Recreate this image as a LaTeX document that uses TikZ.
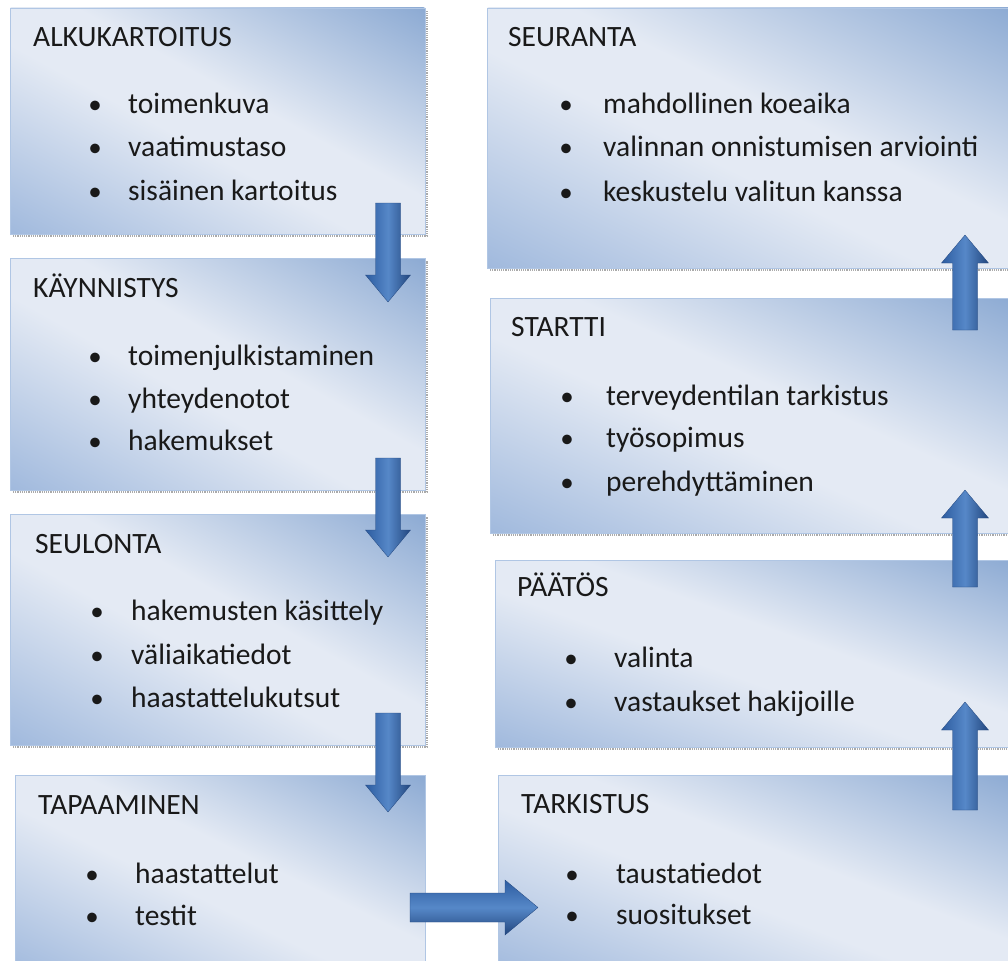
\documentclass[tikz,border=0pt]{standalone}
\usepackage{fontspec}
\setmainfont{Carlito}
\usetikzlibrary{calc}
\definecolor{bxdarkA}{RGB}{140,170,211}
\definecolor{bxdarkB}{RGB}{160,185,221}
\definecolor{bxlight}{RGB}{228,234,244}
\definecolor{bxborder}{RGB}{176,198,228}
\definecolor{shadowc}{RGB}{170,170,170}
\definecolor{arrdark}{RGB}{45,92,160}
\definecolor{arrdarkB}{RGB}{34,70,126}
\definecolor{arrlight}{RGB}{86,136,200}
\definecolor{txt}{RGB}{25,25,25}
\pgfdeclareverticalshading{boxshade}{100bp}{color(0bp)=(bxdarkB); color(25bp)=(bxdarkB); color(46bp)=(bxlight); color(54bp)=(bxlight); color(75bp)=(bxdarkA); color(100bp)=(bxdarkA)}
\tikzset{
  box/.style={draw=bxborder, line width=0.8pt, anchor=north west, inner sep=0pt, outer sep=0pt},
  shadowline/.style={draw=shadowc, line width=1.2pt, densely dotted},
  title/.style={anchor=base west, inner sep=0pt, font=\fontsize{29.5}{32}\selectfont, text=txt},
  item/.style={anchor=base west, inner sep=0pt, font=\fontsize{29.5}{32}\selectfont, text=txt},
  bul/.style={anchor=base, inner sep=0pt, font=\fontsize{27}{30}\selectfont, text=txt},
  arrV/.style={left color=arrdark, right color=arrdarkB, middle color=arrlight, draw=arrdarkB, line width=0.3pt},
  arrH/.style={top color=arrdark, bottom color=arrdarkB, middle color=arrlight, draw=arrdarkB, line width=0.3pt}
}
% box with diagonal shading: name, x, y, width, height
\newcommand\diagbox[5]{%
  \begin{scope}
    \clip (#2,#3) rectangle ++(#4,#5);
    \pgfmathsetmacro\sa{#4/100}\pgfmathsetmacro\sb{#5/100}
    \shade[shading=boxshade, transform canvas={cm={\sa,-\sb,\sa,\sb,(#2+#4/2,#3+#5/2)}}] (-50,-50) rectangle (50,50);
  \end{scope}
  \node[box, minimum width=#4pt, minimum height=#5pt] (#1) at (#2,#3) {};
}
\newcommand\boxshadow[1]{\draw[shadowline] ($(#1.south west)+(3,2)$) -- ($(#1.south east)+(2,2)$) -- ($(#1.north east)+(2,3)$);}
\newcommand\blockdown[1]{\shade[arrV] (#1) -- ++(-12.5,0) -- ++(0,72) -- ++(-10,0) -- ++(22.5,27) -- ++(22.5,-27) -- ++(-10,0) -- ++(0,-72) -- cycle;}
\newcommand\blockup[2]{\shade[arrV] (#1) -- ++(-12.5,0) -- ++(0,-#2) -- ++(-11,0) -- ++(23.5,-28) -- ++(23.5,28) -- ++(-11,0) -- ++(0,#2) -- cycle;}
\newcommand\blockright[1]{\shade[arrH] (#1) -- ++(0,-14.5) -- ++(95,0) -- ++(0,-13) -- ++(33,27.5) -- ++(-33,27.5) -- ++(0,-13) -- ++(-95,0) -- cycle;}
\begin{document}
\begin{tikzpicture}[x=1pt,y=-1pt]
\useasboundingbox (0,0) rectangle (1008,960);
\clip (0,0) rectangle (1008,960);
\fill[white] (0,0) rectangle (1008,960);

% left column boxes
\diagbox{b1}{10}{8}{415}{226}
\diagbox{b2}{10}{258}{415}{232}
\diagbox{b3}{10}{514}{415}{231}
\diagbox{b4}{15}{775}{410}{200}
% right column boxes
\diagbox{r1}{487}{8}{530}{260}
\diagbox{r2}{490}{298}{527}{235}
\diagbox{r3}{495}{560}{522}{187}
\diagbox{r4}{498}{775}{519}{200}
\boxshadow{b1}\boxshadow{b2}\boxshadow{b3}\boxshadow{r1}\boxshadow{r2}\boxshadow{r3}

% texts box 1
\node[title] (t1) at (33,47) {ALKUKARTOITUS};
\node[bul] (p11) at (95,114) {•}; \node[item] (i11) at (128,114) {toimenkuva};
\node[bul] (p12) at (95,157) {•}; \node[item] (i12) at (128,157) {vaatimustaso};
\node[bul] (p13) at (95,200) {•}; \node[item] (i13) at (128,200) {sisäinen kartoitus};
% box 2
\node[title] (t2) at (33,297) {KÄYNNISTYS};
\node[bul] (p21) at (95,365) {•}; \node[item] (i21) at (128,365) {toimenjulkistaminen};
\node[bul] (p22) at (95,408) {•}; \node[item] (i22) at (128,408) {yhteydenotot};
\node[bul] (p23) at (95,450) {•}; \node[item] (i23) at (128,450) {hakemukset};
% box 3
\node[title] (t3) at (35,553) {SEULONTA};
\node[bul] (p31) at (97,620) {•}; \node[item] (i31) at (131,620) {hakemusten käsittely};
\node[bul] (p32) at (97,664) {•}; \node[item] (i32) at (131,664) {väliaikatiedot};
\node[bul] (p33) at (97,707) {•}; \node[item] (i33) at (131,707) {haastattelukutsut};
% box 4
\node[title] (t4) at (38,814) {TAPAAMINEN};
\node[bul] (p41) at (92,883) {•}; \node[item] (i41) at (135,883) {haastattelut};
\node[bul] (p42) at (92,925) {•}; \node[item] (i42) at (135,925) {testit};
% right 1
\node[title] (u1) at (508,47) {SEURANTA};
\node[bul] (q11) at (566,114) {•}; \node[item] (j11) at (603,114) {mahdollinen koeaika};
\node[bul] (q12) at (566,157) {•}; \node[item] (j12) at (603,157) {valinnan onnistumisen arviointi};
\node[bul] (q13) at (566,201) {•}; \node[item] (j13) at (603,201) {keskustelu valitun kanssa};
% right 2
\node[title] (u2) at (511,336) {STARTTI};
\node[bul] (q21) at (567,405) {•}; \node[item] (j21) at (606,405) {terveydentilan tarkistus};
\node[bul] (q22) at (567,447) {•}; \node[item] (j22) at (606,447) {työsopimus};
\node[bul] (q23) at (567,491) {•}; \node[item] (j23) at (606,491) {perehdyttäminen};
% right 3
\node[title] (u3) at (517,596) {PÄÄTÖS};
\node[bul] (q31) at (571,667) {•}; \node[item] (j31) at (614,667) {valinta};
\node[bul] (q32) at (571,711) {•}; \node[item] (j32) at (614,711) {vastaukset hakijoille};
% right 4
\node[title] (u4) at (521,813) {TARKISTUS};
\node[bul] (q41) at (572,883) {•}; \node[item] (j41) at (616,883) {taustatiedot};
\node[bul] (q42) at (572,924) {•}; \node[item] (j42) at (616,924) {suositukset};

% arrows
\coordinate (d1) at (388,203);
\coordinate (d2) at (388,458);
\coordinate (d3) at (388,713);
\coordinate (h1) at (410,907.5);
\coordinate (v1) at (965,330);
\coordinate (v2) at (965,587);
\coordinate (v3) at (965,810);
\blockdown{d1}
\blockdown{d2}
\blockdown{d3}
\blockright{h1}
\blockup{v3}{80}
\blockup{v2}{69}
\blockup{v1}{67}
\end{tikzpicture}
\end{document}
